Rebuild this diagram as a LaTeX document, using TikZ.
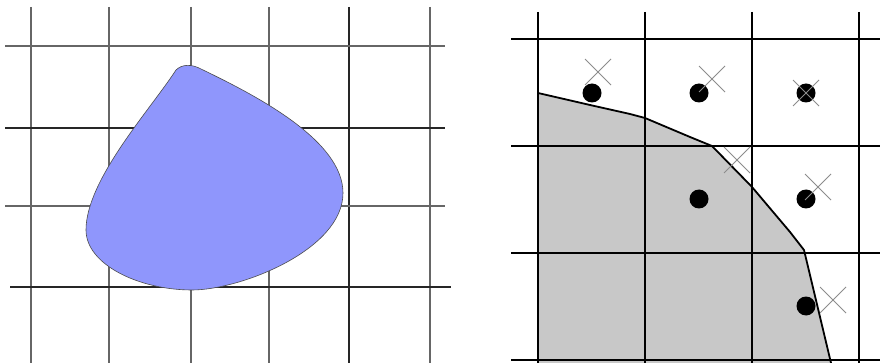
\documentclass[tikz,border=0pt]{standalone}
\begin{document}
\begin{tikzpicture}[x=1pt,y=-1pt,
  lgrid/.style={draw=black!60,line width=1.1pt},
  lgriddark/.style={draw=black!85,line width=1.3pt},
  rgrid/.style={draw=black,line width=1.3pt},
  blob/.style={fill={rgb,255:red,143;green,150;blue,252},draw=black!70,line width=0.6pt},
  region/.style={fill={rgb,255:red,200;green,200;blue,200}},
  boundary/.style={draw=black,line width=1.8pt,line join=round},
  dotmark/.style={fill=black},
  crossmark/.style={draw=black!45,line width=1pt}]
\useasboundingbox (0,0) rectangle (880,363);
% ---------- left panel ----------
\foreach \x in {31,109,191,269,430} \draw[lgrid] (\x,7) -- (\x,363);
\draw[lgriddark] (349,7) -- (349,363);
\draw[lgrid] (5,46) -- (445,46);
\draw[lgriddark] (5,128) -- (445,128);
\draw[lgrid] (5,206) -- (445,206);
\draw[lgriddark] (10,287) -- (451,287);
\draw[blob] (176,70) .. controls (182,64) and (192,64) .. (201,69)
  .. controls (255,95) and (343,140) .. (343,193)
  .. controls (343,250) and (240,290) .. (192,290)
  .. controls (140,290) and (86,265) .. (86,230)
  .. controls (86,180) and (150,110) .. (176,70) -- cycle;
% ---------- right panel ----------
\fill[region] (538,93) -- (590,105) -- (630,114) -- (645,118) -- (690,137)
  -- (712,146) -- (752,187) -- (790,232) -- (804,250) -- (831,363)
  -- (538,363) -- cycle;
\foreach \x in {538,645,752,859} \draw[rgrid] (\x,12) -- (\x,363);
\foreach \y in {39,146,253,360} \draw[rgrid] (511,\y) -- (880,\y);
\draw[boundary] (538,93) -- (590,105) -- (630,114) -- (645,118) -- (690,137)
  -- (712,146) -- (752,187) -- (790,232) -- (804,250) -- (831,363);
\foreach \p in {(592,93),(699,93),(806,93),(699,199),(806,199),(806,306)}
  \fill[dotmark] \p circle (9.5);
\foreach \cx/\cy in {598/72, 712/79, 806/93, 737/160, 818/187, 833/300}
  \draw[crossmark] (\cx-13,\cy-13) -- (\cx+13,\cy+13) (\cx-13,\cy+13) -- (\cx+13,\cy-13);
\end{tikzpicture}
\end{document}
